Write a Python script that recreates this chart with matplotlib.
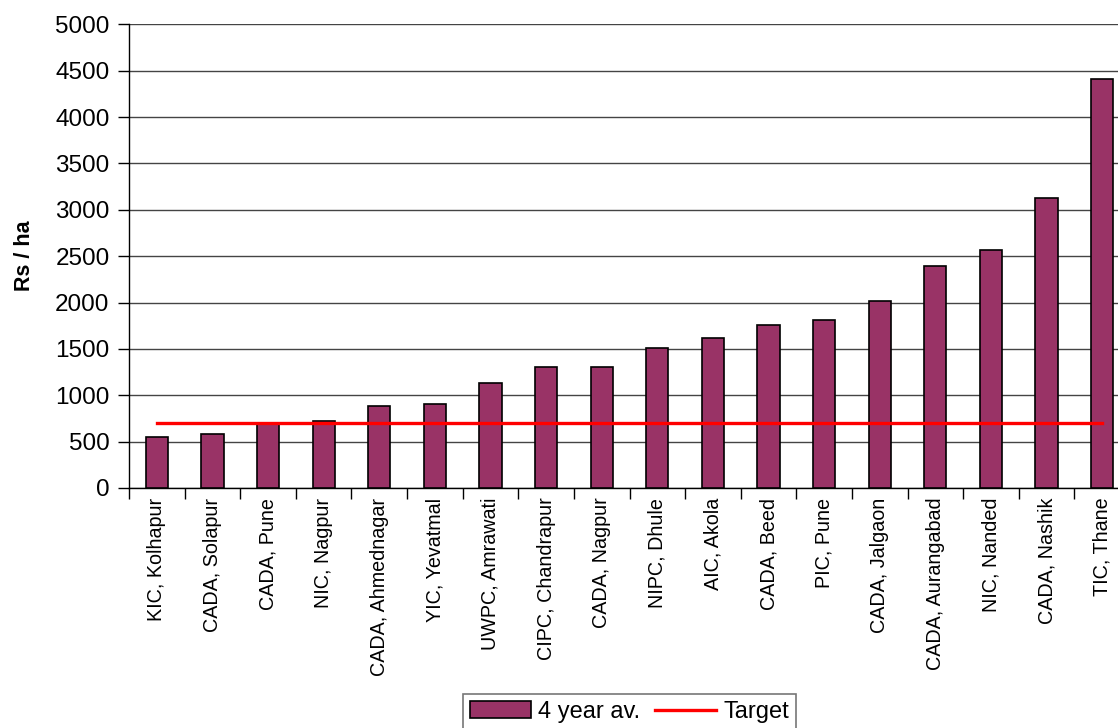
import matplotlib
matplotlib.use("Agg")
import matplotlib.pyplot as plt
import numpy as np

plt.rcParams['font.family'] = ['Liberation Sans', 'DejaVu Sans']

categories = ["KIC, Kolhapur", "CADA, Solapur", "CADA, Pune", "NIC, Nagpur",
              "CADA, Ahmednagar", "YIC, Yevatmal", "UWPC, Amrawati",
              "CIPC, Chandrapur", "CADA, Nagpur", "NIPC, Dhule", "AIC, Akola",
              "CADA, Beed", "PIC, Pune", "CADA, Jalgaon", "CADA, Aurangabad",
              "NIC, Nanded", "CADA, Nashik", "TIC, Thane"]
avg_4yr = [550, 585, 700, 720, 885, 905, 1133, 1300, 1300, 1510, 1620,
           1755, 1810, 2015, 2395, 2565, 3130, 4410]
target = [700] * len(categories)
yticks = [0, 500, 1000, 1500, 2000, 2500, 3000, 3500, 4000, 4500, 5000]

fig = plt.figure(figsize=(11.18, 7.28), dpi=100)
ax = fig.add_axes([129 / 1118, 1 - 488 / 728, (1130 - 129) / 1118, (488 - 24.3) / 728])

x = np.arange(len(categories))
bars = ax.bar(x, avg_4yr, width=0.4, color='#993366', edgecolor='black', linewidth=1.2,
              label='4 year av.', zorder=3)
line, = ax.plot(x, target, color='#ff0000', linewidth=2.4, label='Target', zorder=4)

ax.set_xlim(-0.5, len(categories) - 0.5)
ax.set_ylim(0, 5000)
ax.set_yticks(yticks)
ax.set_yticklabels([str(v) for v in yticks], fontsize=17.5)
ax.yaxis.grid(True, color='#444444', linewidth=1.0, zorder=0)
ax.set_axisbelow(True)

ax.set_xticks(x)
ax.set_xticklabels(categories, rotation=90, fontsize=14.2, va='top', ha='center')
ax.set_xticks(np.arange(-0.5, len(categories), 1.0), minor=True)
ax.tick_params(axis='x', which='major', length=0, pad=7)
ax.tick_params(axis='x', which='minor', length=8, direction='out', width=1)
ax.tick_params(axis='y', length=8, direction='out', width=1, pad=6)

for s in ['top', 'right']:
    ax.spines[s].set_visible(False)
ax.spines['left'].set_linewidth(1.0)
ax.spines['bottom'].set_linewidth(1.0)

ax.set_ylabel('Rs / ha', fontsize=15.5, fontweight='bold')
ax.yaxis.set_label_coords(-0.094, 0.5)

leg = fig.legend(handles=[bars, line], labels=['4 year av.', 'Target'],
                 loc='upper center', bbox_to_anchor=(0.563, 0.047), ncol=2,
                 fontsize=17, frameon=True, fancybox=False, edgecolor='#555555',
                 borderpad=0.3, handlelength=2.6, handletextpad=0.3,
                 columnspacing=0.6, borderaxespad=0)
leg.get_frame().set_linewidth(1.2)

fig.savefig('out.png', dpi=100)
